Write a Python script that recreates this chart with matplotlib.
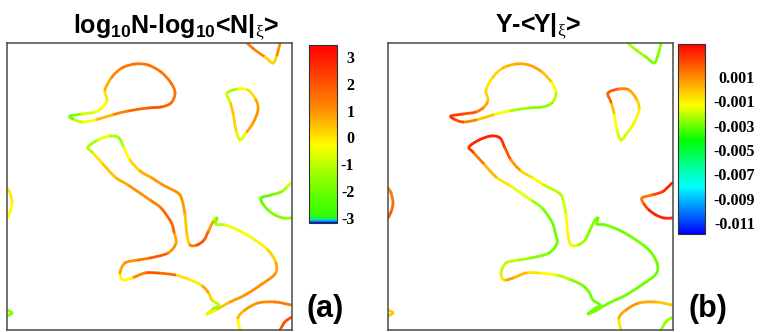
import numpy as np
import matplotlib
matplotlib.use('Agg')
import matplotlib.pyplot as plt
from matplotlib.path import Path
from matplotlib.patches import PathPatch
from matplotlib.colors import LinearSegmentedColormap, Normalize
from matplotlib.cm import ScalarMappable

plt.rcParams['mathtext.fontset'] = 'custom'
plt.rcParams['mathtext.rm'] = 'Liberation Serif'
plt.rcParams['mathtext.bf'] = 'Liberation Sans:bold'

# iso-line geometry on the 285 x 287 grid, with the two fields sampled along it
# balloon with a tail (upper left)
balloon_x = [63, 75, 88, 96, 100, 98, 105, 115, 128, 141, 154, 164, 168, 164, 154, 141, 121, 105, 88, 75, 66]
balloon_y = [214, 216, 218, 223, 230, 240, 253, 262, 266, 265, 258, 247, 237, 227, 223, 222, 219, 215, 210, 208, 211]
balloon_n = [-2.5, -1.0, -0.5, -0.3, -0.3, 0.3, 1.0, 1.3, 1.5, 1.5, 1.5, 1.5, 1.5, 1.5, 2.0, 2.0, 1.5, 1.0, 0.0, -0.5, -1.5]
balloon_f = [0.0028, 0.0025, 0.0018, 0.001, 0.0, -0.0008, -0.0008, -0.0002, 0.0003, 0.0006, 0.0004, -0.0008,
             -0.0018, -0.0024, -0.0027, -0.0028, -0.002, -0.0008, 0.0006, 0.0018, 0.0026]

# D-shaped loop (upper right)
dloop_x = [220, 231, 241, 249, 251, 246, 239, 233, 229, 226, 223]
dloop_y = [237, 241, 240, 230, 220, 207, 197, 190, 200, 217, 228]
dloop_n = [-2.0, -0.5, -0.3, 0.5, 1.0, 1.0, 0.5, -1.5, 0.0, 0.5, 0.3]
dloop_f = [0.0026, 0.0015, 0.0008, 0.0, -0.0008, -0.0014, -0.0018, -0.002, -0.0017, -0.001, 0.001]

# V crossing the top edge
vee_x = [240, 248, 258, 266, 270, 273]
vee_y = [287, 280, 273, 267, 275, 287]
vee_n = [1.5, 1.2, 1.0, -0.5, 1.0, 1.2]
vee_f = [-0.0022, -0.0024, -0.0026, -0.003, -0.0027, -0.0026]

# large connected loop (centre)
big_x = [81, 91, 103, 112, 117, 123, 133, 145, 156, 171, 175, 178, 180, 183, 190, 197, 202, 207, 210, 209,
         218, 233, 248, 261, 269, 268, 255, 238, 221, 209, 200, 206, 212, 205, 201, 194, 181, 168, 151, 138,
         125, 116, 113, 118, 131, 143, 161, 169, 167, 164, 154, 143, 121, 108, 95, 85]
big_y = [183, 190, 194, 192, 182, 170, 159, 152, 145, 137, 130, 115, 95, 85, 85, 90, 100, 110, 112, 106,
         105, 99, 90, 80, 67, 56, 46, 35, 27, 20, 16, 21, 25, 30, 38, 45, 51, 55, 57, 57,
         52, 50, 57, 67, 70, 72, 77, 87, 98, 108, 122, 130, 145, 153, 167, 178]
big_n = [-2.0, -0.5, -0.4, -2.0, -0.6, 0.0, 0.5, 0.8, 1.0, 1.0, 1.0, 0.8, 0.0, 0.5, 2.0, 2.3, 1.3, 0.5, -2.2, -1.5,
         -0.6, -0.5, -0.3, 0.0, 0.5, 1.0, 1.0, 1.0, 0.8, 0.0, -0.3, -1.0, -2.0, 0.0, 0.5, 1.0, -1.2, 1.3, 2.0, 2.0,
         0.5, -1.0, 0.5, 1.0, 1.0, 1.8, 2.0, 0.0, 1.5, 2.0, 1.5, 1.2, 0.8, 0.5, 0.3, -0.3]
big_f = [0.003, 0.003, 0.003, 0.003, 0.0025, 0.0015, 0.0, -0.001, -0.0018, -0.0022, -0.0022, -0.0015, -0.001,
         -0.0012, -0.002, -0.0028, -0.0025, -0.003, -0.003, -0.003, -0.003, -0.003, -0.003, -0.003, -0.003,
         -0.003, -0.003, -0.003, -0.003, -0.003, -0.0028, -0.003, -0.003, -0.003, -0.003, -0.003, -0.0025,
         -0.0018, -0.001, -0.0005, 0.0008, 0.0003, -0.002, -0.002, -0.0022, -0.0025, -0.003, -0.003, -0.003,
         -0.003, -0.0028, -0.0022, -0.001, -0.0005, 0.0008, 0.002]

# crescent on the right edge
cres_x = [284, 279, 274, 264, 254, 256, 261, 268, 276, 284]
cres_y = [147, 142, 138, 135, 132, 126, 120, 115, 112, 112]
cres_n = [-0.5, -1.0, -1.5, -2.0, -2.5, -2.0, -1.8, -1.8, -1.5, -1.5]
cres_f = [0.003, 0.003, 0.0028, 0.002, 0.001, 0.0018, 0.003, 0.003, 0.003, 0.003]

# arc on the left edge
arc_x = [0, 3, 5, 3, 0]
arc_y = [142, 137, 127, 118, 112]
arc_n = [0.0, 0.0, -0.2, -0.3, -0.3]
arc_f = [0.0012, 0.0013, 0.0015, 0.0018, 0.002]

# small tip, bottom left
tip_x = [0, 5, 0]
tip_y = [20, 17, 14]
tip_n = [-1.2, -2.0, -1.5]
tip_f = [-0.0005, 0.0, -0.0005]

# arc at the bottom right
low_x = [233, 231, 238, 251, 268, 284]
low_y = [0, 12, 20, 27, 28, 25]
low_n = [-1.0, 0.3, 0.8, 1.0, 1.2, 1.5]
low_f = [-0.0015, 0.0, 0.0008, 0.0008, 0.0, -0.0005]

# corner piece
corner_x = [273, 277, 280, 285]
corner_y = [0, 7, 10, 13]
corner_n = [2.0, 2.0, 2.0, 2.0]
corner_f = [-0.0025, -0.0025, -0.0025, -0.0025]

curves = [
    (balloon_x, balloon_y, balloon_n, balloon_f, True),
    (dloop_x, dloop_y, dloop_n, dloop_f, True),
    (vee_x, vee_y, vee_n, vee_f, False),
    (big_x, big_y, big_n, big_f, True),
    (cres_x, cres_y, cres_n, cres_f, False),
    (arc_x, arc_y, arc_n, arc_f, False),
    (tip_x, tip_y, tip_n, tip_f, False),
    (low_x, low_y, low_n, low_f, False),
    (corner_x, corner_y, corner_n, corner_f, False),
]

n_ticks = [3, 2, 1, 0, -1, -2, -3]
f_ticks = [0.001, -0.001, -0.003, -0.005, -0.007, -0.009, -0.011]
f_labels = ['0.001', '-0.001', '-0.003', '-0.005', '-0.007', '-0.009', '-0.011']
n_range = (-3.19, 3.44)
f_range = (-0.0119, 0.0037)

# colour stops in value space
n_stops = [(-3.19, '#0018c8'), (-3.10, '#00c8ff'), (-3.03, '#20f040'), (-2.9, '#30ff00'),
           (-1.5, '#90ff00'), (-0.3, '#ffff00'), (1.0, '#ff9000'), (2.2, '#ff4800'), (3.44, '#ff0000')]
f_stops = [(-0.0119, '#0000ff'), (-0.0100, '#0080ff'), (-0.0080, '#00ffff'), (-0.0060, '#00ff80'),
           (-0.0042, '#00ff00'), (-0.0025, '#99ff00'), (-0.0013, '#ffff00'), (0.0010, '#ff8c00'),
           (0.0037, '#ff0000')]


def make_cmap(stops, lo, hi):
    return LinearSegmentedColormap.from_list(
        'c', [((v - lo) / (hi - lo), c) for v, c in stops])


def draw(ax, idx, cmap, norm):
    # each stretch between two samples is a cubic (Catmull-Rom) piece,
    # coloured by the mean of its end values
    for c in curves:
        x, y, v, closed = c[0], c[1], c[idx], c[4]
        p = np.column_stack([x, y]).astype(float)
        vals = np.asarray(v, dtype=float)
        n = len(p)
        if closed:
            idx_of = lambda k: k % n
            nseg = n
        else:
            idx_of = lambda k: min(max(k, 0), n - 1)
            nseg = n - 1
        for i in range(nseg):
            p0, p1 = p[idx_of(i - 1)], p[idx_of(i)]
            p2, p3 = p[idx_of(i + 1)], p[idx_of(i + 2)]
            c1 = p1 + (p2 - p0) / 6.0
            c2 = p2 - (p3 - p1) / 6.0
            path = Path([p1, c1, c2, p2],
                        [Path.MOVETO, Path.CURVE4, Path.CURVE4, Path.CURVE4])
            val = 0.5 * (vals[idx_of(i)] + vals[idx_of(i + 1)])
            ax.add_patch(PathPatch(path, facecolor='none', edgecolor=cmap(norm(val)),
                                   linewidth=2.0, capstyle='round', joinstyle='round'))
    ax.set_xlim(0, 285)
    ax.set_ylim(0, 287)
    ax.set_xticks([])
    ax.set_yticks([])
    for s in ax.spines.values():
        s.set_color('#4a4a4a')
        s.set_linewidth(1.1)


def colorbar(fig, rect, cmap, norm, ticks, labels, pad):
    cax = fig.add_axes(rect)
    cb = fig.colorbar(ScalarMappable(norm=norm, cmap=cmap), cax=cax)
    cb.set_ticks(ticks)
    cb.set_ticklabels(labels)
    cb.outline.set_linewidth(0.8)
    cb.outline.set_edgecolor('#303030')
    cax.tick_params(length=0, pad=pad)
    for t in cax.get_yticklabels():
        t.set_fontfamily('Liberation Serif')
        t.set_fontweight('bold')
        t.set_fontsize(11.5)
        t.set_horizontalalignment('right')


fig = plt.figure(figsize=(7.62, 3.32), dpi=100)

cmap_n = make_cmap(n_stops, *n_range)
norm_n = Normalize(*n_range)
cmap_f = make_cmap(f_stops, *f_range)
norm_f = Normalize(*f_range)

ax_a = fig.add_axes([0.00919, 0.00602, 0.37402, 0.86446])
draw(ax_a, 2, cmap_n, norm_n)
ax_b = fig.add_axes([0.50919, 0.00602, 0.37402, 0.86446])
draw(ax_b, 3, cmap_f, norm_f)

colorbar(fig, [0.40551, 0.32831, 0.03675, 0.53614], cmap_n, norm_n,
         n_ticks, [str(t) for t in n_ticks], 12.5)
colorbar(fig, [0.88976, 0.29518, 0.03543, 0.57229], cmap_f, norm_f,
         f_ticks, f_labels, 36)

title_kw = dict(fontfamily='Liberation Sans', fontweight='bold', fontsize=18,
                ha='center', va='baseline')
fig.text(0.231, 0.9006, r'log$_{\mathbf{10}}$N-log$_{\mathbf{10}}$<N|$_{\mathrm{\xi}}$>', **title_kw)
fig.text(0.706, 0.9036, r'Y-<Y|$_{\mathrm{\xi}}$>', **title_kw)

lab_kw = dict(fontfamily='Liberation Sans', fontweight='bold', fontsize=22,
              ha='center', va='center')
fig.text(0.4265, 0.0693, '(a)', **lab_kw)
fig.text(0.929, 0.0693, '(b)', **lab_kw)

fig.savefig('out.png', dpi=100)
